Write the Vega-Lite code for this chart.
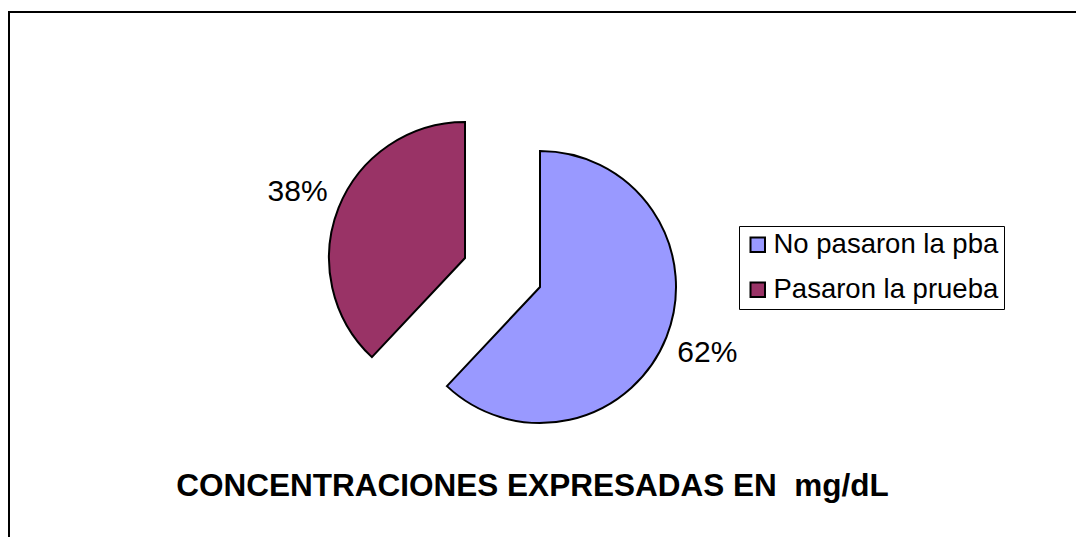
{
  "$schema": "https://vega.github.io/schema/vega-lite/v6.json",
  "width": 1067,
  "height": 525,
  "autosize": {"type": "none"},
  "padding": {"left": 9, "top": 12, "right": 0, "bottom": 0},
  "background": "white",
  "config": {
    "font": "Liberation Sans",
    "view": {"stroke": null}
  },
  "title": {
    "text": "CONCENTRACIONES EXPRESADAS EN\u00a0 mg/dL",
    "orient": "bottom",
    "anchor": "middle",
    "offset": -97,
    "dx": -10,
    "font": "Liberation Sans",
    "fontSize": 31.5,
    "fontWeight": "bold",
    "color": "black"
  },
  "data": {
    "values": [
      {"estado": "No pasaron la pba", "porcentaje": 0.62},
      {"estado": "Pasaron la prueba", "porcentaje": 0.38}
    ]
  },
  "layer": [
    {
      "data": {"values": [{"marco": "borde"}]},
      "mark": {"type": "rect", "fill": null, "stroke": "black", "strokeWidth": 2},
      "encoding": {
        "x": {"value": 0},
        "x2": {"value": {"expr": "width + 30"}},
        "y": {"value": 0},
        "y2": {"value": {"expr": "height + 30"}}
      }
    },
    {
      "mark": {
        "type": "arc",
        "outerRadius": 136,
        "stroke": "black",
        "strokeWidth": 2,
        "strokeJoin": "miter",
        "x": {"expr": "width/2 - 40"},
        "y": {"expr": "height/2 - 2"},
        "xOffset": {"expr": "datum.estado == 'No pasaron la pba' ? 37.5 : -37.5"},
        "yOffset": {"expr": "datum.estado == 'No pasaron la pba' ? 14.5 : -14.5"}
      },
      "encoding": {
        "theta": {"field": "porcentaje", "type": "quantitative", "stack": true},
        "order": {"field": "estado", "sort": "ascending"},
        "color": {
          "field": "estado",
          "type": "nominal",
          "scale": {"domain": ["No pasaron la pba", "Pasaron la prueba"], "range": ["#9999FF", "#993366"]},
          "legend": {
            "orient": "none",
            "legendX": 730,
            "legendY": 214,
            "title": null,
            "padding": 5,
            "strokeColor": "black",
            "fillColor": "white",
            "symbolType": "square",
            "symbolSize": 210,
            "symbolStrokeColor": "black",
            "symbolStrokeWidth": 2,
            "symbolOpacity": 1,
            "labelFont": "Liberation Sans",
            "labelFontSize": 27.5,
            "labelColor": "black",
            "labelOffset": 2,
            "labelLimit": 400,
            "rowPadding": 16
          }
        }
      }
    },
    {
      "mark": {
        "type": "text",
        "radius": 180,
        "fontSize": 30,
        "font": "Liberation Sans",
        "fill": "black",
        "align": "center",
        "baseline": "middle",
        "x": {"expr": "width/2 - 40"},
        "y": {"expr": "height/2 - 2"},
        "xOffset": {"expr": "datum.estado == 'No pasaron la pba' ? 37.5 : -37.5"},
        "yOffset": {"expr": "datum.estado == 'No pasaron la pba' ? 14.5 : -14.5"}
      },
      "encoding": {
        "theta": {"field": "porcentaje", "type": "quantitative", "stack": true},
        "order": {"field": "estado", "sort": "ascending"},
        "text": {"field": "porcentaje", "type": "quantitative", "format": ".0%"}
      }
    }
  ]
}
